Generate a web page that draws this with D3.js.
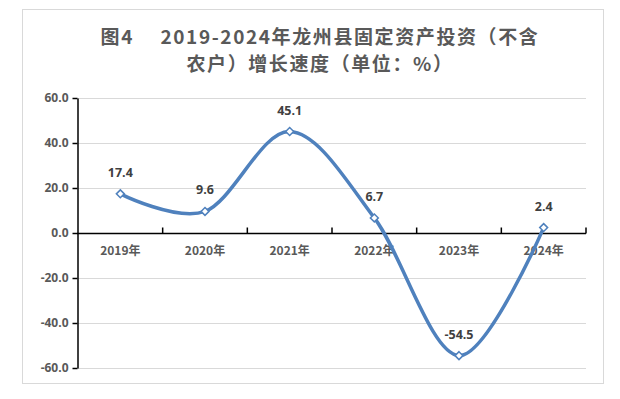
<!DOCTYPE html>
<html>
<head>
<meta charset="utf-8">
<script src="https://cdn.jsdelivr.net/npm/d3@7"></script>
<style>
  body { margin: 0; background: #fff; }
  svg text { font-family: "Noto Sans CJK SC", "Noto Sans", sans-serif; }
</style>
</head>
<body>
<div id="chart"></div>
<script>
// chart data
var years = ['2019年', '2020年', '2021年', '2022年', '2023年', '2024年'];
var growth = [17.4, 9.6, 45.1, 6.7, -54.5, 2.4];
var yTicks = [60, 40, 20, 0, -20, -40, -60];
var titleLines = ['图4\u2003 2019-2024年龙州县固定资产投资（不含', '农户）增长速度（单位：%）'];

var attrs = {
    svgWidth: 620,
    svgHeight: 399,
    plotLeft: 78,
    plotRight: 586,
    plotTop: 98,
    plotBottom: 368,
    lineColor: '#4f81bd',
    gridColor: '#d9d9d9',
    textColor: '#595959'
};

// plain hyphen for negatives, like the source
var fmt = function (d) { return d.toFixed(1); };

var svg = d3.select('#chart')
    .append('svg')
    .attr('width', attrs.svgWidth)
    .attr('height', attrs.svgHeight);

// outer frame
svg.append('rect')
    .attr('x', 22.5).attr('y', 9.5)
    .attr('width', 581).attr('height', 374)
    .attr('fill', '#fff')
    .attr('stroke', '#d9d9d9');

// title
svg.selectAll('.title')
    .data(titleLines)
    .enter()
    .append('text')
    .attr('class', 'title')
    .attr('x', 320)
    .attr('y', function (d, i) { return 44 + i * 27; })
    .attr('text-anchor', 'middle')
    .attr('font-size', 19)
    .attr('font-weight', 'bold')
    .attr('letter-spacing', 1.6)
    .attr('fill', attrs.textColor)
    .text(function (d) { return d; });

var x = d3.scaleBand()
    .domain(years)
    .range([attrs.plotLeft, attrs.plotRight]);

var y = d3.scaleLinear()
    .domain([-60, 60])
    .range([attrs.plotBottom, attrs.plotTop]);

// gridlines
svg.append('g')
    .selectAll('line')
    .data(yTicks)
    .enter()
    .append('line')
    .attr('x1', attrs.plotLeft)
    .attr('x2', attrs.plotRight)
    .attr('y1', function (d) { return Math.round(y(d)) + 0.5; })
    .attr('y2', function (d) { return Math.round(y(d)) + 0.5; })
    .attr('stroke', attrs.gridColor);

// y axis
var yAxis = svg.append('g')
    .attr('transform', 'translate(' + (attrs.plotLeft - 0.5) + ',0)')
    .call(d3.axisLeft(y).tickValues(yTicks).tickSize(5).tickSizeOuter(0)
        .tickFormat(fmt));
yAxis.select('.domain').attr('stroke', '#000').attr('stroke-width', 1.5);
yAxis.selectAll('.tick line').attr('stroke', '#000').attr('stroke-width', 1.5);
yAxis.selectAll('.tick text')
    .attr('x', -9)
    .attr('font-size', 12)
    .attr('font-weight', 'bold')
    .attr('fill', attrs.textColor)
    .style('font-family', '"Open Sans", "Noto Sans", sans-serif');

// x axis at zero, ticks on band boundaries pointing up
var zeroY = Math.round(y(0)) + 0.5;
var xAxis = svg.append('g');
xAxis.append('line')
    .attr('x1', attrs.plotLeft - 1)
    .attr('x2', attrs.plotRight)
    .attr('y1', zeroY).attr('y2', zeroY)
    .attr('stroke', '#000').attr('stroke-width', 1.5);
var boundaries = years.map(function (d) { return x(d) + x.bandwidth(); });
xAxis.selectAll('.xtick')
    .data(boundaries)
    .enter()
    .append('line')
    .attr('x1', function (d) { return d; })
    .attr('x2', function (d) { return d; })
    .attr('y1', zeroY)
    .attr('y2', zeroY - 6)
    .attr('stroke', '#000').attr('stroke-width', 1.5);
xAxis.selectAll('.xlabel')
    .data(years)
    .enter()
    .append('text')
    .attr('x', function (d) { return x(d) + x.bandwidth() / 2; })
    .attr('y', 255)
    .attr('text-anchor', 'middle')
    .attr('font-size', 12)
    .attr('font-weight', 'bold')
    .attr('fill', attrs.textColor)
    .text(function (d) { return d; });

// smoothed line
var line = d3.line()
    .x(function (d, i) { return x(years[i]) + x.bandwidth() / 2; })
    .y(function (d) { return y(d); })
    .curve(d3.curveCardinal.tension(0));

svg.append('path')
    .datum(growth)
    .attr('d', line)
    .attr('fill', 'none')
    .attr('stroke', attrs.lineColor)
    .attr('stroke-width', 3.5)
    .attr('stroke-linecap', 'round');

// diamond markers
svg.selectAll('.marker')
    .data(growth)
    .enter()
    .append('path')
    .attr('class', 'marker')
    .attr('d', d3.symbol().type(d3.symbolDiamond2).size(40))
    .attr('transform', function (d, i) {
        return 'translate(' + (x(years[i]) + x.bandwidth() / 2) + ',' + y(d) + ')';
    })
    .attr('fill', '#fff')
    .attr('stroke', attrs.lineColor)
    .attr('stroke-width', 1.5);

// data labels
svg.selectAll('.dlabel')
    .data(growth)
    .enter()
    .append('text')
    .attr('x', function (d, i) { return x(years[i]) + x.bandwidth() / 2; })
    .attr('y', function (d) { return y(d) - 17; })
    .attr('text-anchor', 'middle')
    .attr('font-size', 12.5)
    .attr('font-weight', 'bold')
    .attr('fill', '#404040')
    .style('font-family', '"Open Sans", "Noto Sans", sans-serif')
    .text(function (d) { return fmt(d); });
</script>
</body>
</html>
